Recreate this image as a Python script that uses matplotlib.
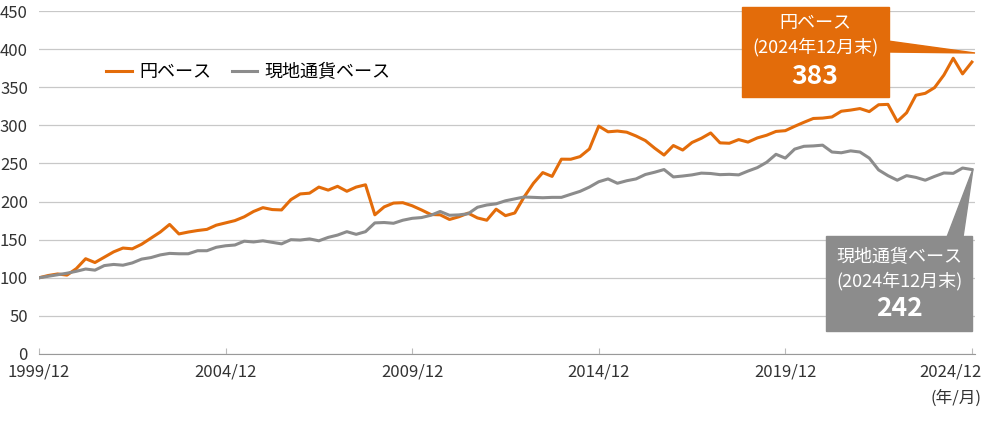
import numpy as np
import matplotlib
matplotlib.use('Agg')
import matplotlib.pyplot as plt
from matplotlib.patches import Rectangle, Polygon
from matplotlib.transforms import ScaledTranslation

plt.rcParams['font.family'] = ['Noto Sans CJK JP', 'DejaVu Sans']

# 四半期ごとの値 (1999/12 = 100)
yen_base = [100, 103, 105, 103.5, 112, 125, 120, 127, 134, 139,
            138, 144, 152, 160, 170, 157.5, 160, 162, 163.5, 169,
            172, 175, 180, 187, 192, 189.5, 189, 202.5, 210, 211,
            219, 215, 220, 213.5, 219, 222, 182.6, 193, 198, 198.5,
            194.5, 189, 183, 182.6, 176.5, 180, 184.8, 178.5, 175.5, 190,
            181.5, 185, 206, 224, 238, 233, 255.6, 255.5, 259, 269,
            299, 291.5, 292.5, 291, 286, 280, 270, 261, 273.5, 267.6,
            277.5, 283, 290, 277, 276.5, 281.3, 278, 283.5, 287, 292,
            293, 298.7, 304, 309, 309.5, 311, 318.5, 320, 322, 318,
            327, 327.5, 305, 316.5, 339.5, 342, 349.5, 366, 388, 367.5,
            383]
local_base = [100, 102, 104, 106, 108.5, 111.5, 110, 116, 117.5, 116.5,
              119.5, 124.5, 126.5, 130, 132, 131.5, 131.5, 135.5, 135.5, 140,
              142, 143, 148, 147, 148.5, 146.5, 144.5, 150, 149.5, 151,
              148.5, 153, 156, 160.5, 157, 160.5, 172, 172.5, 171.5, 175.5,
              178, 179, 182, 187, 182, 182.5, 184, 192.5, 195.5, 197,
              201, 203.5, 206, 205.5, 205, 205.5, 205.5, 209.5, 213.4, 219,
              226, 229.7, 224, 227.3, 229.7, 235.5, 238.5, 242, 232.3, 233.5,
              235, 237.3, 236.8, 235.3, 235.7, 235, 240, 244.5, 251.5, 262,
              257, 268.8, 272.5, 273, 274, 265, 264, 266.5, 265, 257,
              241.5, 234, 228, 234, 231.7, 228, 233, 237.5, 237, 244,
              242]
months = np.arange(0, 301, 3)  # 1999/12からの月数
tick_months = [0, 60, 120, 180, 240, 300]
tick_labels = ['1999/12', '2004/12', '2009/12', '2014/12', '2019/12', '2024/12']
yen_last = 383
local_last = 242

ORANGE = '#e36c0a'
GRAY = '#8c8c8c'
W, H = 984, 424


def fx(px):
    return px / W


def fy(py):
    return 1 - py / H


fig = plt.figure(figsize=(W / 100, H / 100), dpi=100)
ax = fig.add_axes([fx(39), fy(354), fx(975) - fx(39), fy(11) - fy(354)])

l_yen, = ax.plot(months, yen_base, color=ORANGE, lw=2.2, zorder=3, label='円ベース')
l_loc, = ax.plot(months, local_base, color=GRAY, lw=2.2, zorder=4, label='現地通貨ベース')

ax.set_xlim(0, 301)
ax.set_ylim(0, 450)
ax.set_yticks(np.arange(0, 451, 50))
ax.set_xticks(tick_months)
ax.set_xticklabels(tick_labels)
ax.grid(axis='y', color='#c8c8c8', lw=0.9)
ax.set_axisbelow(True)
for s in ['left', 'right', 'top']:
    ax.spines[s].set_visible(False)
ax.spines['bottom'].set_color('#999999')
ax.tick_params(axis='y', length=0, pad=8, labelsize=12, labelcolor='#333333')
ax.tick_params(axis='x', length=4, direction='in', color='#bbbbbb', pad=7,
               labelsize=12, labelcolor='#333333')

# 最後のラベルは右寄せ
last = ax.get_xticklabels()[-1]
last.set_horizontalalignment('right')
last.set_transform(last.get_transform() + ScaledTranslation(0.1, 0, fig.dpi_scale_trans))
fig.text(fx(982), fy(398), '(年/月)', ha='right', va='center', fontsize=12, color='#333333')

ax.legend(handles=[l_yen, l_loc], loc='center left', bbox_to_anchor=(fx(90), fy(72)),
          bbox_transform=fig.transFigure, ncol=2, frameon=False, fontsize=13,
          handlelength=1.4, handletextpad=0.45, columnspacing=1.1)

# 吹き出し (円ベース)
fig.add_artist(Rectangle((fx(742), fy(97)), fx(889) - fx(742), fy(7) - fy(97),
                         transform=fig.transFigure, color=ORANGE, zorder=5))
fig.add_artist(Polygon([(fx(888), fy(41)), (fx(975), fy(53)), (fx(888), fy(52))],
                       closed=True, transform=fig.transFigure, color=ORANGE, zorder=5))
fig.text(fx(815), fy(23), '円ベース', ha='center', va='center', color='white', fontsize=13, zorder=6)
fig.text(fx(815), fy(47), '(2024年12月末)', ha='center', va='center', color='white', fontsize=13, zorder=6)
fig.text(fx(815), fy(76), f'{yen_last}', ha='center', va='center', color='white', fontsize=19,
         fontweight='bold', zorder=6)

# 吹き出し (現地通貨ベース)
fig.add_artist(Rectangle((fx(826), fy(331)), fx(972) - fx(826), fy(236) - fy(331),
                         transform=fig.transFigure, color=GRAY, zorder=5))
fig.add_artist(Polygon([(fx(947), fy(237)), (fx(973), fy(169)), (fx(963), fy(237))],
                       closed=True, transform=fig.transFigure, color=GRAY, zorder=5))
fig.text(fx(899), fy(257), '現地通貨ベース', ha='center', va='center', color='white', fontsize=13, zorder=6)
fig.text(fx(899), fy(281), '(2024年12月末)', ha='center', va='center', color='white', fontsize=13, zorder=6)
fig.text(fx(899), fy(309), f'{local_last}', ha='center', va='center', color='white', fontsize=19,
         fontweight='bold', zorder=6)

fig.savefig('out.png', dpi=100)
